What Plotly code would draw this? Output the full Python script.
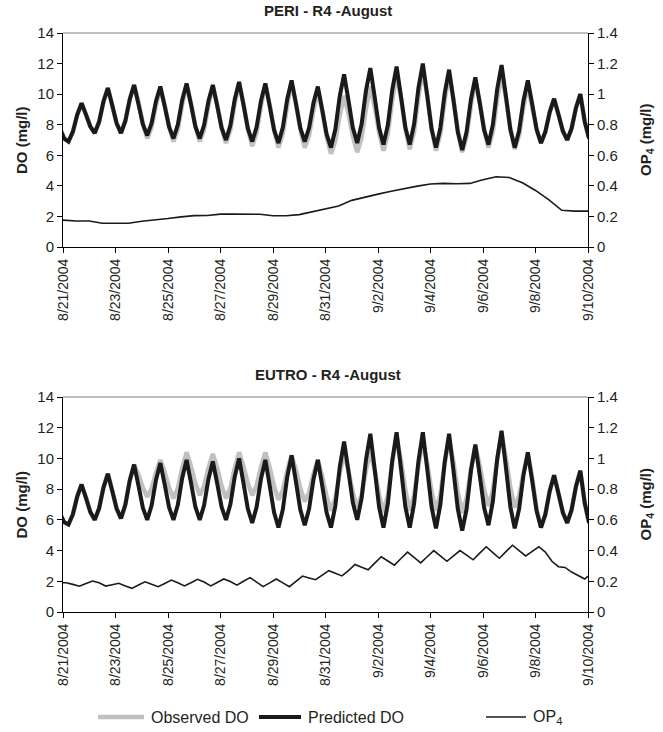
import plotly.graph_objects as go
import pandas as pd

# ---------------- data ----------------
# DO series sampled every 4 h (first point 8/20 21:00, then 8/21 01:00, 05:00, ...)
do_time = pd.date_range("2004-08-20 21:00", periods=122, freq="4h")

pred_peri = [7.8,
    7.1, 6.9, 7.53, 8.65, 9.4, 8.66,
    7.88, 7.45, 8.19, 9.52, 10.4, 9.28,
    8.1, 7.45, 8.24, 9.65, 10.6, 9.35,
    8.03, 7.3, 8.1, 9.54, 10.5, 9.21,
    7.85, 7.1, 8.0, 9.62, 10.7, 9.33,
    7.89, 7.1, 7.98, 9.55, 10.6, 9.23,
    7.79, 7.0, 7.95, 9.66, 10.8, 9.32,
    7.76, 6.9, 7.85, 9.56, 10.7, 9.22,
    7.66, 6.8, 7.83, 9.67, 10.9, 9.38,
    7.78, 6.9, 7.8, 9.42, 10.5, 8.98,
    7.38, 6.5, 7.7, 9.86, 11.3, 9.59,
    7.79, 6.8, 8.03, 10.23, 11.7, 9.8,
    7.8, 6.7, 7.98, 10.27, 11.8, 9.86,
    7.82, 6.7, 8.03, 10.41, 12.0, 9.91,
    7.71, 6.5, 7.78, 10.07, 11.6, 9.61,
    7.51, 6.35, 7.54, 9.68, 11.1, 9.43,
    7.67, 6.7, 8.0, 10.34, 11.9, 9.85,
    7.69, 6.5, 7.6, 9.58, 10.9, 9.34,
    7.7, 6.8, 7.53, 8.83, 9.7, 8.67,
    7.59, 7.0, 7.75, 9.1, 10.0, 8.2,
    7.1]

obs_peri = [7.8,
    7.1, 6.9, 7.53, 8.65, 9.4, 8.66,
    7.88, 7.45, 8.19, 9.52, 10.4, 9.28,
    8.1, 7.45, 8.24, 9.65, 10.6, 9.48,
    8.08, 7.1, 7.83, 9.28, 10.4, 9.28,
    7.88, 6.9, 7.71, 9.34, 10.6, 9.42,
    7.94, 6.9, 7.69, 9.28, 10.5, 9.32,
    7.84, 6.8, 7.66, 9.37, 10.7, 9.39,
    7.75, 6.6, 7.48, 9.24, 10.6, 9.29,
    7.65, 6.5, 7.42, 9.27, 10.7, 9.36,
    7.68, 6.5, 7.31, 8.94, 10.2, 8.89,
    7.25, 6.1, 6.94, 8.61, 9.9, 8.72,
    7.24, 6.2, 7.15, 9.04, 10.5, 9.16,
    7.48, 6.3, 7.4, 9.6, 11.3, 9.73,
    7.77, 6.4, 7.54, 9.83, 11.6, 9.9,
    7.78, 6.3, 7.4, 9.6, 11.3, 9.67,
    7.63, 6.2, 7.23, 9.3, 10.9, 9.49,
    7.73, 6.5, 7.56, 9.67, 11.3, 9.73,
    7.77, 6.4, 7.32, 9.17, 10.6, 9.1,
    7.7, 6.8, 7.53, 8.83, 9.7, 8.67,
    7.59, 7.0, 7.75, 9.1, 10.0, 8.2,
    7.1]

pred_eutro = [6.45,
    5.85, 5.7, 6.35, 7.52, 8.3, 7.43,
    6.51, 6.0, 6.75, 8.1, 9.0, 7.9,
    6.74, 6.1, 6.98, 8.55, 9.6, 8.23,
    6.79, 6.0, 6.93, 8.59, 9.7, 8.29,
    6.81, 6.0, 6.98, 8.73, 9.9, 8.42,
    6.86, 6.0, 6.95, 8.66, 9.8, 8.36,
    6.84, 6.0, 7.0, 8.8, 10.0, 8.4,
    6.72, 5.8, 6.83, 8.67, 9.9, 8.23,
    6.47, 5.5, 6.68, 8.79, 10.2, 8.47,
    6.65, 5.65, 6.71, 8.63, 9.9, 8.23,
    6.47, 5.5, 6.9, 9.42, 11.1, 9.16,
    7.12, 6.0, 7.4, 9.92, 11.6, 9.28,
    6.84, 5.5, 7.05, 9.84, 11.7, 9.34,
    6.86, 5.5, 7.05, 9.84, 11.7, 9.33,
    6.83, 5.45, 6.99, 9.76, 11.6, 9.21,
    6.69, 5.3, 6.7, 9.22, 10.9, 8.91,
    6.81, 5.65, 7.19, 9.96, 11.8, 9.39,
    6.85, 5.45, 6.69, 8.92, 10.4, 8.54,
    6.58, 5.5, 6.35, 7.88, 8.9, 7.72,
    6.48, 5.8, 6.65, 8.18, 9.2, 7.1,
    5.8]

obs_eutro = [6.45,
    5.85, 5.7, 6.35, 7.52, 8.3, 7.43,
    6.51, 6.0, 6.75, 8.1, 9.0, 7.9,
    6.74, 6.1, 6.98, 8.55, 9.6, 8.93,
    8.09, 7.5, 8.03, 9.08, 9.9, 9.1,
    8.1, 7.4, 8.06, 9.38, 10.4, 9.5,
    8.38, 7.6, 8.19, 9.38, 10.3, 9.37,
    8.21, 7.4, 8.06, 9.38, 10.4, 9.5,
    8.38, 7.6, 8.22, 9.45, 10.4, 9.41,
    8.17, 7.3, 7.94, 9.21, 10.2, 9.24,
    8.04, 7.2, 7.79, 8.98, 9.9, 8.84,
    7.52, 6.6, 7.41, 9.04, 10.3, 9.18,
    7.78, 6.8, 7.61, 9.24, 10.5, 9.22,
    7.62, 6.5, 7.58, 9.73, 11.4, 9.86,
    7.94, 6.6, 7.59, 9.57, 11.1, 9.66,
    7.86, 6.6, 7.63, 9.7, 11.3, 9.75,
    7.81, 6.45, 7.41, 9.32, 10.8, 9.55,
    7.99, 6.9, 7.91, 9.94, 11.5, 10.0,
    8.12, 6.8, 7.55, 9.04, 10.2, 8.73,
    6.7, 5.5, 6.35, 7.88, 8.9, 7.72,
    6.48, 5.8, 6.65, 8.18, 9.2, 7.1,
    5.8]

# OP4, PERI: every 12 h from 8/21 00:00
op_peri_time = pd.date_range("2004-08-21 00:00", periods=41, freq="12h")
op_peri = [0.176, 0.17, 0.17, 0.155, 0.155, 0.155, 0.168, 0.176, 0.186, 0.197,
           0.205, 0.206, 0.215, 0.216, 0.216, 0.214, 0.204, 0.204, 0.212, 0.232,
           0.247, 0.268, 0.305, 0.327, 0.346, 0.365, 0.383, 0.398, 0.412, 0.416,
           0.414, 0.416, 0.44, 0.46, 0.455, 0.42, 0.37, 0.31, 0.24, 0.235, 0.235]

# OP4, EUTRO: every 6 h from 8/20 21:00
op_eutro_time = pd.date_range("2004-08-20 21:00", periods=82, freq="6h")
op_eutro = [0.19,
    0.19, 0.18, 0.168, 0.185,
    0.202, 0.19, 0.169, 0.178,
    0.187, 0.17, 0.154, 0.176,
    0.197, 0.18, 0.165, 0.186,
    0.208, 0.19, 0.17, 0.19,
    0.213, 0.195, 0.17, 0.192,
    0.215, 0.198, 0.175, 0.2,
    0.224, 0.195, 0.165, 0.19,
    0.215, 0.19, 0.165, 0.2,
    0.234, 0.222, 0.21, 0.24,
    0.269, 0.252, 0.235, 0.27,
    0.31, 0.292, 0.275, 0.318,
    0.36, 0.332, 0.305, 0.348,
    0.39, 0.355, 0.32, 0.36,
    0.40, 0.365, 0.33, 0.365,
    0.40, 0.37, 0.34, 0.383,
    0.425, 0.387, 0.35, 0.393,
    0.435, 0.4, 0.365, 0.395,
    0.425, 0.39, 0.33, 0.295,
    0.29, 0.26, 0.235, 0.215,
    0.25]

x_tick_dates = pd.date_range("2004-08-21", "2004-09-10", freq="2D")
x_tick_labels = ["8/21/2004", "8/23/2004", "8/25/2004", "8/27/2004", "8/29/2004", "8/31/2004",
                 "9/2/2004", "9/4/2004", "9/6/2004", "9/8/2004", "9/10/2004"]
do_ticks = [0, 2, 4, 6, 8, 10, 12, 14]
op_ticks = [0, 0.2, 0.4, 0.6, 0.8, 1.0, 1.2, 1.4]
op_tick_labels = ["0", "0.2", "0.4", "0.6", "0.8", "1", "1.2", "1.4"]

titles = ["PERI - R4 -August", "EUTRO - R4 -August"]
series_names = ["Observed DO", "Predicted DO", "OP<sub>4</sub>"]

# ---------------- layout helpers ----------------
W, H = 663, 732
def px(x):
    return x / W
def py(y):
    return 1 - y / H

FONT = "Liberation Sans, Arial, sans-serif"
TXT = "#231f20"
GRAY = "#c0c0c0"
BLACK = "#1a1a1a"

x_left, x_right = 63, 588
panels = [(33, 247), (397, 612)]

fig = go.Figure()

datasets = [
    (obs_peri, pred_peri, op_peri_time, op_peri),
    (obs_eutro, pred_eutro, op_eutro_time, op_eutro),
]
for i, (obs, pred, opt, op) in enumerate(datasets):
    xa = "x" if i == 0 else "x2"
    ya = "y" if i == 0 else "y3"
    ya2 = "y2" if i == 0 else "y4"
    fig.add_trace(go.Scatter(x=do_time, y=obs, mode="lines", name=series_names[0],
                             line=dict(color=GRAY, width=4.5), xaxis=xa, yaxis=ya,
                             showlegend=False))
    fig.add_trace(go.Scatter(x=do_time, y=pred, mode="lines", name=series_names[1],
                             line=dict(color=BLACK, width=4), xaxis=xa, yaxis=ya,
                             showlegend=False))
    fig.add_trace(go.Scatter(x=opt, y=op, mode="lines", name=series_names[2],
                             line=dict(color=BLACK, width=1.6), xaxis=xa, yaxis=ya2,
                             showlegend=False))

xrange = ["2004-08-21 00:00", "2004-09-10 00:00"]
common_x = dict(range=xrange, type="date", tickvals=list(x_tick_dates), ticktext=x_tick_labels,
                tickangle=-90, ticks="outside", ticklen=5, tickcolor="black", showline=True,
                linecolor="black", linewidth=1, showgrid=False, zeroline=False,
                tickfont=dict(family=FONT, size=14, color=TXT), domain=[px(x_left), px(x_right)])
common_y = dict(range=[0, 14], tickvals=do_ticks, ticks="outside", ticklen=5, tickcolor="black",
                showline=True, linecolor="black", linewidth=1, showgrid=False, zeroline=False,
                tickfont=dict(family=FONT, size=15, color=TXT))
common_y2 = dict(range=[0, 1.4], tickvals=op_ticks, ticktext=op_tick_labels, side="right",
                 ticks="outside", ticklen=5, tickcolor="black", showline=True, linecolor="black",
                 linewidth=1, showgrid=False, zeroline=False,
                 tickfont=dict(family=FONT, size=15, color=TXT))

layout = dict(
    width=W, height=H, margin=dict(l=0, r=0, t=0, b=0),
    paper_bgcolor="white", plot_bgcolor="white", template="none",
    showlegend=False,
    xaxis=dict(common_x, anchor="y"),
    yaxis=dict(common_y, anchor="x", domain=[py(panels[0][1]), py(panels[0][0])]),
    yaxis2=dict(common_y2, anchor="x", overlaying="y"),
    xaxis2=dict(common_x, anchor="y3"),
    yaxis3=dict(common_y, anchor="x2", domain=[py(panels[1][1]), py(panels[1][0])]),
    yaxis4=dict(common_y2, anchor="x2", overlaying="y3"),
)
fig.update_layout(**layout)

annotations = []
shapes = []
for i, (top, bot) in enumerate(panels):
    mid = (top + bot) / 2
    annotations.append(dict(text="<b>%s</b>" % titles[i], x=px(328), y=py(top - 12), xref="paper",
                            yref="paper", showarrow=False, xanchor="center", yanchor="bottom",
                            font=dict(family=FONT, size=15, color=TXT)))
    annotations.append(dict(text="<b>DO (mg/l)</b>", x=px(21), y=py(mid), xref="paper", yref="paper",
                            showarrow=False, textangle=-90, xanchor="center", yanchor="middle",
                            font=dict(family=FONT, size=15, color=TXT)))
    annotations.append(dict(text="<b>OP<sub>4</sub> (mg/l)</b>", x=px(646), y=py(mid), xref="paper",
                            yref="paper", showarrow=False, textangle=-90, xanchor="center",
                            yanchor="middle", font=dict(family=FONT, size=15, color=TXT)))
    # top border of plot area (thin gray)
    shapes.append(dict(type="line", xref="paper", yref="paper", x0=px(x_left), x1=px(x_right),
                       y0=py(top), y1=py(top), line=dict(color="#808080", width=1)))

# legend (drawn manually)
ly = py(717)
leg = [(98, 144, GRAY, 4.5, 149, series_names[0]),
       (259, 301, BLACK, 4, 306, series_names[1]),
       (486, 526, BLACK, 1.6, 531, series_names[2])]
for x0, x1, col, w, tx, name in leg:
    shapes.append(dict(type="line", xref="paper", yref="paper", x0=px(x0), x1=px(x1), y0=ly, y1=ly,
                       line=dict(color=col, width=w)))
    annotations.append(dict(text=name, x=px(tx), y=ly, xref="paper", yref="paper", showarrow=False,
                            xanchor="left", yanchor="middle",
                            font=dict(family=FONT, size=16, color=TXT)))

fig.update_layout(annotations=annotations, shapes=shapes)
fig.write_html("out.html")
